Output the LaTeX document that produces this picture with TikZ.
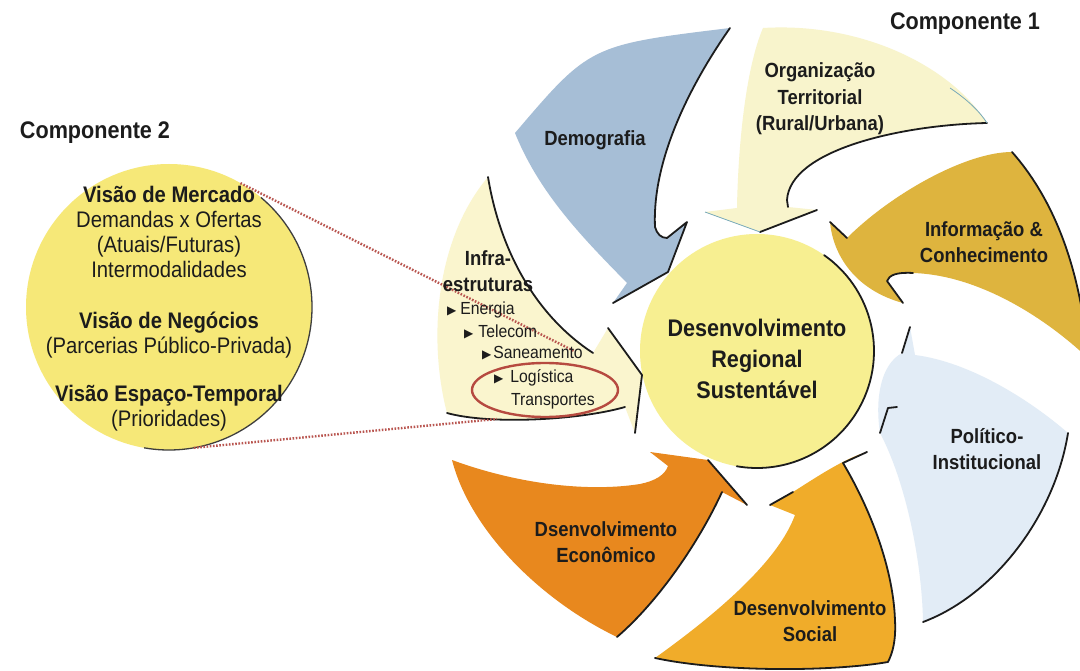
\documentclass[tikz,border=0pt]{standalone}
\usepackage{fontspec}
\setmainfont{Liberation Sans}[FakeStretch=0.9]
\newfontfamily\symfont{DejaVu Sans}
\usetikzlibrary{shapes.geometric}

\definecolor{demo}{RGB}{166,190,214}
\definecolor{orgterr}{RGB}{248,244,204}
\definecolor{infoc}{RGB}{222,180,62}
\definecolor{polit}{RGB}{226,236,246}
\definecolor{socl}{RGB}{240,172,42}
\definecolor{econ}{RGB}{232,136,30}
\definecolor{infra}{RGB}{250,245,206}
\definecolor{corefill}{RGB}{247,239,145}
\definecolor{compfill}{RGB}{246,232,120}
\definecolor{ink}{RGB}{28,28,28}
\definecolor{dotred}{RGB}{185,86,80}
\definecolor{ringred}{RGB}{182,74,64}
\definecolor{paleline}{RGB}{120,170,185}

\tikzset{
  edge/.style={draw=ink, line width=1.8pt, line join=round, line cap=round},
  rim/.style={draw=ink!85, line width=1.3pt},
  thinedge/.style={draw=paleline, line width=0.8pt},
  lbl/.style={font=\bfseries\fontsize{20.5}{26.5}\selectfont, align=center, inner sep=0pt, text=ink},
  title/.style={font=\bfseries\fontsize{24}{28}\selectfont, inner sep=0pt, text=ink},
  coretext/.style={font=\bfseries\fontsize{24}{31}\selectfont, align=center, inner sep=0pt, text=ink},
  circtext/.style={font=\fontsize{22.5}{25}\selectfont, align=center, inner sep=0pt, text=ink},
  item/.style={font=\fontsize{17.5}{20}\selectfont, anchor=west, inner sep=0pt, text=ink},
  zoomline/.style={draw=dotred, line width=2.4pt, dash pattern=on 1.6pt off 1.6pt},
  disc/.style={circle, inner sep=0pt, outer sep=0pt},
}
\newcommand{\tri}{{\symfont\fontsize{12}{12}\selectfont ▶}}

\begin{document}
\begin{tikzpicture}[x=1pt,y=-1pt]
\useasboundingbox (0,0) rectangle (1080,671);
\fill[white] (0,0) rectangle (1080,671);
\clip (0,0) rectangle (1080,671);

% the two discs
\node[disc, fill=compfill, minimum size=286pt] (c2) at (169,307) {};
\draw[rim] (c2.50) arc[start angle=50, end angle=-100, radius=143pt];
\node[disc, fill=corefill, minimum size=234pt] (core) at (757,351) {};
\draw[edge] (core.55) arc[start angle=55, end angle=-100, radius=117pt];

% Demografia
\fill[demo] (515,133) .. controls (590,45) .. (730,28)
  .. controls (690,85) and (652,160) .. (655,227)
  .. controls (657,234) and (661,238) .. (667,238)
  -- (687,222) -- (668,272) -- (613,303) -- (627,283)
  .. controls (585,240) and (540,195) .. (515,133) -- cycle;
\draw[edge] (730,28) .. controls (690,85) and (652,160) .. (655,227)
  .. controls (657,234) and (661,238) .. (667,238)
  -- (687,222) -- (668,272) -- (613,303);

% Organizacao territorial
\fill[orgterr] (763,28) .. controls (860,22) and (950,65) .. (987,123)
  .. controls (900,125) and (790,150) .. (787,200) -- (788,207)
  -- (817,210) -- (760,232) -- (705,212) -- (737,208)
  .. controls (738,150) and (745,70) .. (763,28) -- cycle;
\draw[edge] (987,123) .. controls (900,125) and (790,150) .. (787,200) -- (788,207);
\draw[edge] (817,210) -- (760,232);
\draw[thinedge] (760,232) -- (705,212);
\draw[thinedge] (950,88) .. controls (968,100) and (980,112) .. (987,123);

% Informacao & conhecimento
\fill[infoc] (1012,152) .. controls (965,152) and (890,195) .. (847,238)
  -- (830,222) .. controls (833,255) and (855,290) .. (903,303)
  -- (887,281) .. controls (889,275) and (897,272) .. (913,273)
  .. controls (980,275) and (1050,320) .. (1095,365)
  -- (1095,330) -- (1085,330)
  .. controls (1075,255) and (1050,195) .. (1012,152) -- cycle;
\draw[edge] (1012,152) .. controls (1050,195) and (1075,255) .. (1085,330);
\draw[edge] (847,238) -- (830,222);
\draw[edge] (903,303) -- (887,281) .. controls (889,275) and (897,272) .. (913,273);

% Politico-institucional
\fill[polit] (915,355) -- (910,327) -- (902,353)
  .. controls (880,365) and (875,400) .. (880,433)
  .. controls (905,480) and (922,560) .. (923,622)
  .. controls (995,595) and (1055,515) .. (1068,433)
  .. controls (1030,400) and (970,362) .. (915,355) -- cycle;
\draw[edge] (910,327) -- (902,353);
\draw[edge] (897,407) -- (888,408) -- (880,433);
\draw[edge] (923,622) .. controls (995,595) and (1055,515) .. (1068,433);

% Desenvolvimento social
\fill[socl] (770,505) -- (793,492) .. controls (815,478) and (845,458) .. (867,452)
  -- (843,463) .. controls (868,505) and (893,565) .. (895,620)
  .. controls (896,640) and (893,652) .. (888,662)
  .. controls (830,672) and (720,672) .. (655,658)
  .. controls (715,615) and (778,562) .. (795,515) -- cycle;
\draw[edge] (770,505) -- (793,492);
\draw[edge] (867,452) -- (843,463) .. controls (868,505) and (893,565) .. (895,620)
  .. controls (896,640) and (893,652) .. (888,662)
  .. controls (830,672) and (720,672) .. (655,658);

% Desenvolvimento economico
\fill[econ] (452,460) .. controls (520,485) and (590,492) .. (640,484)
  .. controls (655,481) and (665,475) .. (668,466)
  -- (650,452) -- (708,460) -- (747,505) -- (722,492)
  .. controls (700,540) and (660,600) .. (617,637)
  .. controls (540,600) and (470,530) .. (452,460) -- cycle;
\draw[edge] (708,460) -- (747,505);
\draw[edge] (722,492) .. controls (700,540) and (660,600) .. (617,637);

% Infra-estruturas
\fill[infra] (488,177) .. controls (500,250) and (535,315) .. (593,353)
  -- (608,328) -- (642,375) -- (635,433) -- (625,407)
  .. controls (580,420) and (490,425) .. (447,413)
  .. controls (428,340) and (435,240) .. (488,177) -- cycle;
\draw[edge] (488,177) .. controls (500,250) and (535,315) .. (593,353);
\draw[edge] (608,328) -- (642,375) -- (635,433);
\draw[edge] (625,407) .. controls (580,420) and (490,425) .. (447,413);

% highlighted item and the lines leading to it
\node[ellipse, draw=ringred, line width=2.4pt, minimum width=146pt, minimum height=54pt, inner sep=0pt] (lt) at (545,390) {};
\coordinate (zend1) at (574,351);
\coordinate (zend2) at (497,419);
\draw[zoomline] (c2.60) -- (zend1);
\draw[zoomline] (c2.-80) -- (zend2);

% labels
\node[title] (comp1) at (965,24) {Componente 1};
\node[title] (comp2) at (95,133) {Componente 2};
\node[lbl] (tdemo) at (595,140) {Demografia};
\node[lbl] (torg) at (820,99) {Organização\\Territorial\\(Rural/Urbana)};
\node[lbl] (tinfo) at (984,242) {Informação \&\\Conhecimento};
\node[lbl] (tpol) at (987,449) {Político-\\Institucional};
\node[lbl] (tsoc) at (810,621) {Desenvolvimento\\Social};
\node[lbl] (tecon) at (606,542) {Dsenvolvimento\\Econômico};
\node[lbl] (tinfra) at (488,271) {Infra-\\estruturas};
\node[coretext] (tcore) at (757,359) {Desenvolvimento\\Regional\\Sustentável};
\node[circtext] (tc2) at (169,309) {\textbf{Visão de Mercado}\\Demandas x Ofertas\\(Atuais/Futuras)\\Intermodalidades\\[26pt]\textbf{Visão de Negócios}\\(Parcerias Público-Privada)\\[23pt]\textbf{Visão Espaço-Temporal}\\(Prioridades)};

\node[item] (i1) at (447,310) {\tri\hspace{4pt}Energia};
\node[item] (i2) at (464,332) {\tri\hspace{5pt}Telecom};
\node[item] (i3) at (482,353) {\tri\hspace{2pt}Saneamento};
\node[item] (i4) at (494,378) {\tri\hspace{7pt}Logística};
\node[item] (i5) at (511,401) {Transportes};
\end{tikzpicture}
\end{document}
